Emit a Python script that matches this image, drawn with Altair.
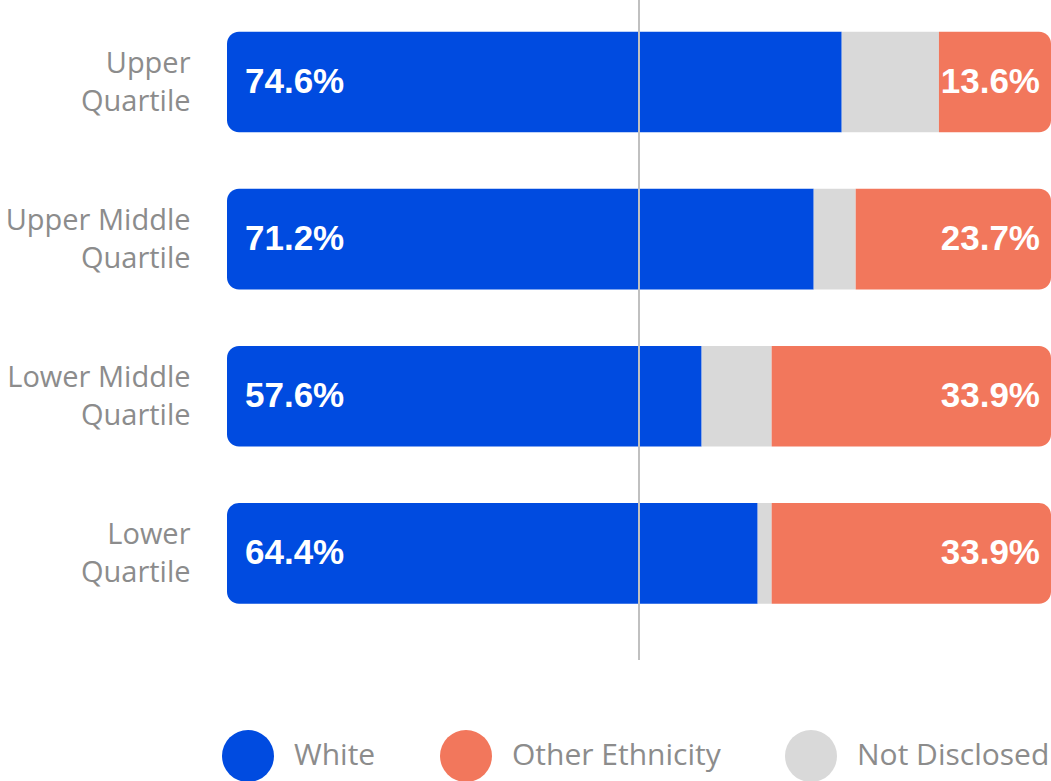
import altair as alt
import pandas as pd

categories = ["Upper Quartile", "Upper Middle Quartile", "Lower Middle Quartile", "Lower Quartile"]
white = [74.6, 71.2, 57.6, 64.4]
not_disclosed = [11.8, 5.1, 8.5, 1.7]
other = [13.6, 23.7, 33.9, 33.9]
segments = ["White", "Other Ethnicity", "Not Disclosed"]
colors = ["#004BE0", "#F2775C", "#D9D9D9"]

rows = []
for c, w, n, o in zip(categories, white, not_disclosed, other):
    rows.append({"cat": c, "seg": "White", "start": 0, "end": w, "label": f"{w:.1f}%"})
    rows.append({"cat": c, "seg": "Not Disclosed", "start": w, "end": w + n, "label": ""})
    rows.append({"cat": c, "seg": "Other Ethnicity", "start": w + n, "end": 100, "label": f"{o:.1f}%"})
df = pd.DataFrame(rows)

yenc = alt.Y("cat:N", sort=categories, title=None,
             scale=alt.Scale(paddingInner=0.36, paddingOuter=0.28, align=0.36),
             axis=alt.Axis(domain=False, ticks=False, grid=False,
                           labelFont="Open Sans", labelFontSize=29, labelColor="#8C8C8C",
                           labelLineHeight=38, labelPadding=37, labelLimit=300, labelOffset=-18,
                           labelExpr="[replace(datum.label, ' Quartile', ''), 'Quartile']"))
xenc = alt.X("start:Q", scale=alt.Scale(domain=[0, 100]), axis=None)

color = alt.Color("seg:N", scale=alt.Scale(domain=segments, range=colors),
                  legend=alt.Legend(title=None, orient="none", legendX=-5, legendY=730,
                                    direction="horizontal", columns=3,
                                    symbolType="circle", symbolSize=2704, symbolStrokeWidth=0,
                                    symbolOpacity=1,
                                    labelFont="Open Sans", labelFontSize=30, labelColor="#8C8C8C",
                                    labelOffset=20, columnPadding=64, labelLimit=400))

base = alt.Chart(df).encode(y=yenc, x=xenc, x2="end:Q", color=color)

w_bar = base.transform_filter(alt.datum.seg == "White").mark_bar(
    cornerRadiusTopLeft=12, cornerRadiusBottomLeft=12)
n_bar = base.transform_filter(alt.datum.seg == "Not Disclosed").mark_bar()
o_bar = base.transform_filter(alt.datum.seg == "Other Ethnicity").mark_bar(
    cornerRadiusTopRight=12, cornerRadiusBottomRight=12)

w_text = alt.Chart(df).transform_filter(alt.datum.seg == "White").mark_text(
    align="left", baseline="middle", dx=18, font="Liberation Sans", fontWeight="bold",
    fontSize=35, color="white").encode(y=alt.Y("cat:N", sort=categories), x="start:Q", text="label:N")
o_text = alt.Chart(df).transform_filter(alt.datum.seg == "Other Ethnicity").mark_text(
    align="right", baseline="middle", dx=-11, font="Liberation Sans", fontWeight="bold",
    fontSize=35, color="white").encode(y=alt.Y("cat:N", sort=categories), x="end:Q", text="label:N")

rule = alt.Chart(pd.DataFrame({"v": [50]})).mark_rule(color="#C0C0C0", strokeWidth=2).encode(
    x="v:Q", y=alt.value(0), y2=alt.value(660))

chart = alt.layer(w_bar, n_bar, o_bar, w_text, o_text, rule).properties(
    width=824, height=660,
    autosize=alt.AutoSizeParams(type="none"),
    padding={"left": 227, "top": 0, "right": 0, "bottom": 121},
).configure_view(stroke=None)

chart.save("out.html", embed_options={"renderer": "svg", "actions": False})
